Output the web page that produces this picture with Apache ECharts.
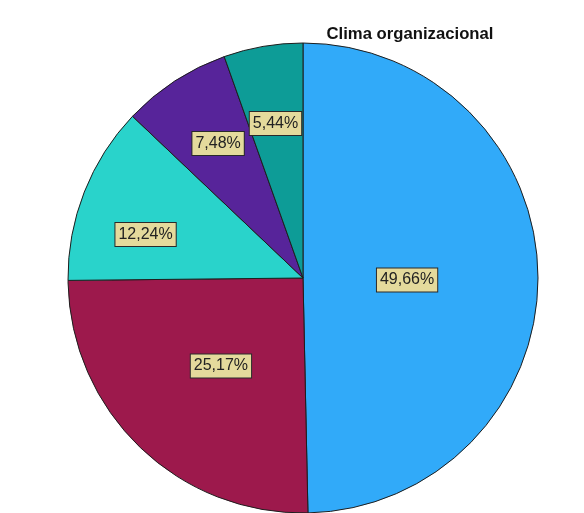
<!DOCTYPE html>
<html>
<head>
<meta charset="utf-8">
<script src="https://cdn.jsdelivr.net/npm/echarts@6/dist/echarts.min.js"></script>
<style>
  html, body { margin: 0; padding: 0; background: #ffffff; }
  #chart { width: 584px; height: 513px; }
</style>
</head>
<body>
<div id="chart"></div>
<script>
// Categories of the organizational-climate variable and their shares (%)
const categories = ['Nivel 1', 'Nivel 2', 'Nivel 3', 'Nivel 4', 'Nivel 5'];
const percentages = [49.66, 25.17, 12.24, 7.48, 5.44];
const sliceColors = ['#31aaf9', '#9d194c', '#29d3cb', '#57249a', '#0d9c97'];

// Polar placement of each value label: radius as a fraction of the pie radius,
// plus a small angular nudge (degrees, clockwise) off the slice bisector
const labelRadiusFraction = [0.443, 0.512, 0.695, 0.677, 0.668];
const labelAngleNudge = [1.7, -1.1, -6.0, 0.8, -0.3];

const CENTER = [303, 278];
const RADIUS = 235;

const chart = echarts.init(document.getElementById('chart'), null, { renderer: 'canvas' });

chart.setOption({
  backgroundColor: '#ffffff',
  animation: false,
  title: {
    text: 'Clima organizacional',
    left: 405,
    top: 21,
    textAlign: 'center',
    textStyle: {
      fontFamily: 'Liberation Sans, Arial, sans-serif',
      fontSize: 16.7,
      fontWeight: 'bold',
      color: '#111111'
    }
  },
  series: [{
    type: 'pie',
    center: CENTER,
    radius: RADIUS,
    startAngle: 90,
    clockwise: true,
    avoidLabelOverlap: false,
    data: categories.map((name, i) => ({
      name: name,
      value: percentages[i],
      itemStyle: { color: sliceColors[i] }
    })),
    itemStyle: {
      borderColor: '#1e1e1e',
      borderWidth: 1
    },
    label: {
      show: true,
      position: 'inside',
      formatter: p => p.value.toFixed(2).replace('.', ',') + '%',
      fontFamily: 'Liberation Sans, Arial, sans-serif',
      fontSize: 16,
      color: '#222222',
      backgroundColor: '#e4da9c',
      borderColor: '#2a2a2a',
      borderWidth: 1,
      padding: [4, 3, 3, 3]
    },
    labelLine: { show: false },
    labelLayout: function (params) {
      // The inside label sits on the bisector at half the radius; move it along
      // the same polar frame to its own radius and angle.
      const r = params.labelRect;
      const lx = r.x + r.width / 2;
      const ly = r.y + r.height / 2;
      const theta = Math.atan2(lx - CENTER[0], -(ly - CENTER[1]))
        + labelAngleNudge[params.dataIndex] * Math.PI / 180;
      const dist = labelRadiusFraction[params.dataIndex] * RADIUS;
      const tx = CENTER[0] + dist * Math.sin(theta);
      const ty = CENTER[1] - dist * Math.cos(theta);
      return { dx: tx - lx, dy: ty - ly };
    },
    emphasis: { disabled: true }
  }]
});
</script>
</body>
</html>
